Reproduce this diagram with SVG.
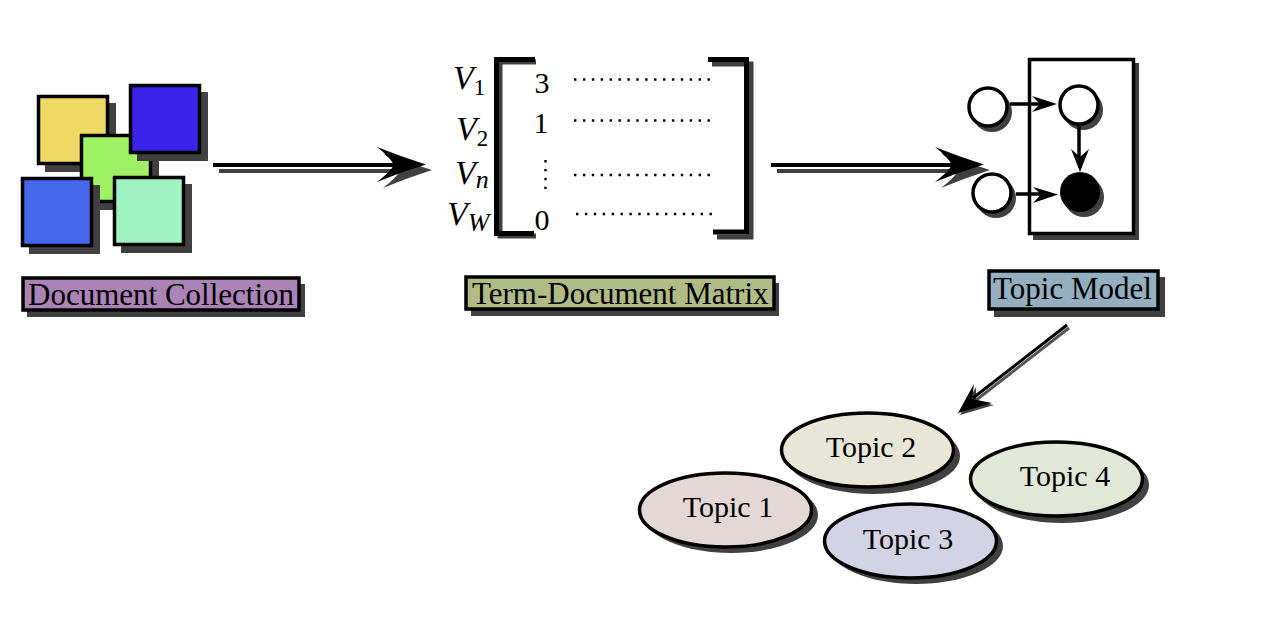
<svg xmlns="http://www.w3.org/2000/svg" width="1278" height="636" viewBox="0 0 1278 636">
<style>
text{font-family:"Liberation Serif","Times New Roman",serif;fill:#000}
.sh{fill:#404040;stroke:none}
.b{stroke:#000;stroke-width:3.5}
.lb{font-size:31px}
.tp{font-size:30px;text-anchor:middle}
.v{font-size:34px;font-style:italic}
.s{font-size:23px}
.sb{font-size:26px}
.n{font-size:30px;text-anchor:middle}
.dots{stroke:#000;stroke-width:2.4;stroke-dasharray:2.4 6.5;fill:none}
.br{fill:none;stroke:#000;stroke-width:5}
.brs{fill:none;stroke:#404040;stroke-width:5}
.ln{fill:none;stroke:#000}
.ah{fill:#000;stroke:none}
</style>
<rect width="1278" height="636" fill="#fff"/>
<g id="doc-yellow"><rect class="sh" x="45" y="103" width="71" height="69"/><rect class="b" x="38.500" y="96.500" width="69" height="67" fill="#f0d964"/></g>
<g id="doc-green"><rect class="sh" x="89" y="142" width="70" height="68"/><rect class="b" x="81.500" y="135.500" width="69" height="66" fill="#9ef263"/></g>
<g id="doc-indigo"><rect class="sh" x="137" y="92" width="71" height="69"/><rect class="b" x="130.500" y="85.500" width="69" height="67" fill="#3d22ea"/></g>
<g id="doc-blue"><rect class="sh" x="29" y="185" width="71" height="69"/><rect class="b" x="22.500" y="178.500" width="69" height="67" fill="#4568ea"/></g>
<g id="doc-mint"><rect class="sh" x="121" y="184" width="71" height="69"/><rect class="b" x="114.500" y="177.500" width="69" height="67" fill="#9ff3c3"/></g>
<g id="label-doc"><rect class="sh" x="27" y="284" width="278" height="33"/><rect class="b" x="23" y="278" width="276" height="32" fill="#ab83b7"/><text class="lb" x="28" y="305">Document Collection</text></g>
<g id="matrix">
<text class="v" x="453" y="89">V<tspan class="s" dy="6" dx="0" style="font-style:normal">1</tspan></text>
<text class="v" x="456" y="140">V<tspan class="s" dy="6" dx="0" style="font-style:normal">2</tspan></text>
<text class="v" x="455" y="184">V<tspan class="sb" dy="4" dx="0">n</tspan></text>
<text class="v" x="447" y="225">V<tspan class="sb" dy="6" dx="0">W</tspan></text>
<path class="brs" d="M536 62H500V236H536"/><path class="brs" d="M712 64H751V237H717"/>
<path class="br" d="M535 59.500H496.500V233.500H534"/><path class="br" d="M708 59.500H746.500V232H713"/>
<text class="n" x="542" y="93">3</text><text class="n" x="541" y="133">1</text><text class="n" x="542" y="230">0</text>
<path class="dots" d="M574 79.500H710M574 120.500H710M574 175H710M576 214H712"/>
<path class="dots" d="M545.500 160V190"/>
</g>
<g id="label-matrix"><rect class="sh" x="471" y="283" width="308" height="33"/><rect class="b" x="466" y="277" width="308" height="32" fill="#b0bb85"/><text class="lb" x="472" y="304">Term-Document Matrix</text></g>
<g id="plate"><rect class="sh" x="1033" y="63" width="106" height="177"/><rect x="1029.500" y="59.500" width="104" height="174" fill="#fff" stroke="#000" stroke-width="3.500"/></g>
<g id="node-a"><circle class="sh" cx="992" cy="112" r="20"/><circle cx="988" cy="107" r="19" fill="#fff" stroke="#000" stroke-width="3.500"/></g>
<g id="node-b"><circle class="sh" cx="1083" cy="110" r="20"/><circle cx="1079" cy="105" r="19" fill="#fff" stroke="#000" stroke-width="3.500"/></g>
<g id="node-c"><circle class="sh" cx="996" cy="198" r="20"/><circle cx="992" cy="193" r="19" fill="#fff" stroke="#000" stroke-width="3.500"/></g>
<g id="node-d"><circle class="sh" cx="1084" cy="197" r="20"/><circle cx="1080" cy="192" r="20" fill="#000"/></g>
<g id="label-topic"><rect class="sh" x="994" y="277" width="171" height="40"/><rect class="b" x="989" y="271" width="169" height="38" fill="#94afbf"/><text class="lb" x="993" y="299">Topic Model</text></g>
<g id="topic1"><ellipse class="sh" cx="731" cy="515" rx="87" ry="38"/><ellipse cx="725.500" cy="510" rx="86" ry="37" fill="#e3d8d5" stroke="#000" stroke-width="3.500"/><text class="tp" x="728" y="517">Topic 1</text></g>
<g id="topic2"><ellipse class="sh" cx="873" cy="456" rx="87" ry="38"/><ellipse cx="867.500" cy="450" rx="86" ry="37" fill="#e8e6d6" stroke="#000" stroke-width="3.500"/><text class="tp" x="871" y="457">Topic 2</text></g>
<g id="topic3"><ellipse class="sh" cx="916" cy="546" rx="87" ry="38"/><ellipse cx="910.500" cy="541" rx="86" ry="37" fill="#d3d3e5" stroke="#000" stroke-width="3.500"/><text class="tp" x="908" y="549">Topic 3</text></g>
<g id="topic4"><ellipse class="sh" cx="1062" cy="485" rx="87" ry="38"/><ellipse cx="1056.500" cy="479" rx="86" ry="37" fill="#e2e8d7" stroke="#000" stroke-width="3.500"/><text class="tp" x="1065" y="486">Topic 4</text></g>
<g id="connectors">
<path d="M219 171H420" stroke="#404040" stroke-width="4" fill="none"/>
<path class="sh" d="M383 153Q408 163 432 170Q407 178 383 188Q396 178 400 171Q396 163 383 153Z"/>
<path class="ln" stroke-width="4" d="M213 165H410"/>
<path class="ah" d="M377 147Q402 157 426 164.500Q401 172 377 182Q390 172 394 165Q390 157 377 147Z"/>
<path d="M777 171H975" stroke="#404040" stroke-width="4" fill="none"/>
<path class="sh" d="M941 153Q966 163 990 170Q965 178 941 188Q954 178 958 171Q954 163 941 153Z"/>
<path class="ln" stroke-width="4" d="M771 165H965"/>
<path class="ah" d="M935 147Q960 157 984 164.500Q959 172 935 182Q948 172 952 165Q948 157 935 147Z"/>
<path d="M1069 328L975 401" stroke="#555" stroke-width="3" fill="none"/>
<path class="sh" d="M976 387L960 415L994 405L976 402Z"/>
<path class="ln" stroke-width="3" d="M1067 325L973 398"/>
<path class="ah" d="M974 384L958 413L992 403L972 399Z"/>
<path class="ln" stroke-width="3.500" d="M1010 104H1050"/>
<path class="ah" d="M1032 96L1057 104L1032 112L1040 104Z"/>
<path class="ln" stroke-width="3.500" d="M1016 194H1050"/>
<path class="ah" d="M1033 187L1058 194.500L1033 203L1041 194.500Z"/>
<path class="ln" stroke-width="3.500" d="M1079 124V165"/>
<path class="ah" d="M1071 149L1080 172L1089 149L1080 157Z"/>
</g>
</svg>
